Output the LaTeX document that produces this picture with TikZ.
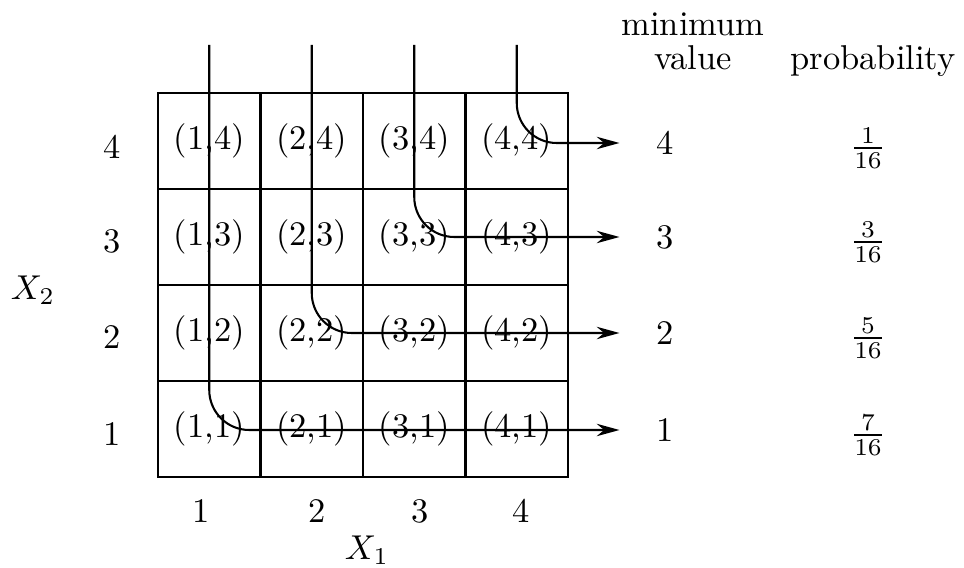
\documentclass[tikz,border=0pt]{standalone}
\usetikzlibrary{arrows.meta,positioning}

\begin{document}
\begin{tikzpicture}[x=0.29pt,y=-0.29pt,>={Stealth[length=6.6pt,width=3.6pt]},
 cell/.style={draw,line width=0.6pt,minimum width=29.7pt,minimum height=27.8pt,inner sep=0pt},
 val/.style={minimum width=26pt,inner sep=0pt},
 minpath/.style={->,line width=0.6pt,rounded corners=11.6pt}]
\useasboundingbox (0,0) rectangle (964,568);
% the sample space
\foreach \i/\x in {1/209.25,2/311.75,3/414.25,4/516.75}{
 \foreach \j/\y in {1/429,2/333,3/237,4/141}{
  \node[cell] (c\i\j) at (\x,\y) {(\i,\j)};
 }
 \coordinate (t\i) at (\x,45);
}
% minimum value and its probability
\foreach \j/\y/\p in {1/430/7,2/333/5,3/237/3,4/143/1}{
 \node[val] (v\j) at (665,\y) {\j};
 \node (p\j) at (868,\y+5) {$\frac{\p}{16}$};
 \node (r\j) at (112,\y+4) {\j};
}
\foreach \i/\x in {1/201,2/317,3/420,4/521}
 \node (k\i) at (\x,511) {\i};
\node[align=center,anchor=base] (hmin) at (693,70) {minimum\\[-2pt]value};
\node[anchor=base] (hprob) at (873,70) {probability};
\node (xa) at (367,550) {$X_1$};
\node (xb) at (33,290) {$X_2$};
% paths to the minimum
\foreach \i in {1,...,4}
 \draw[minpath] (t\i) |- (v\i.west);
\end{tikzpicture}
\end{document}
